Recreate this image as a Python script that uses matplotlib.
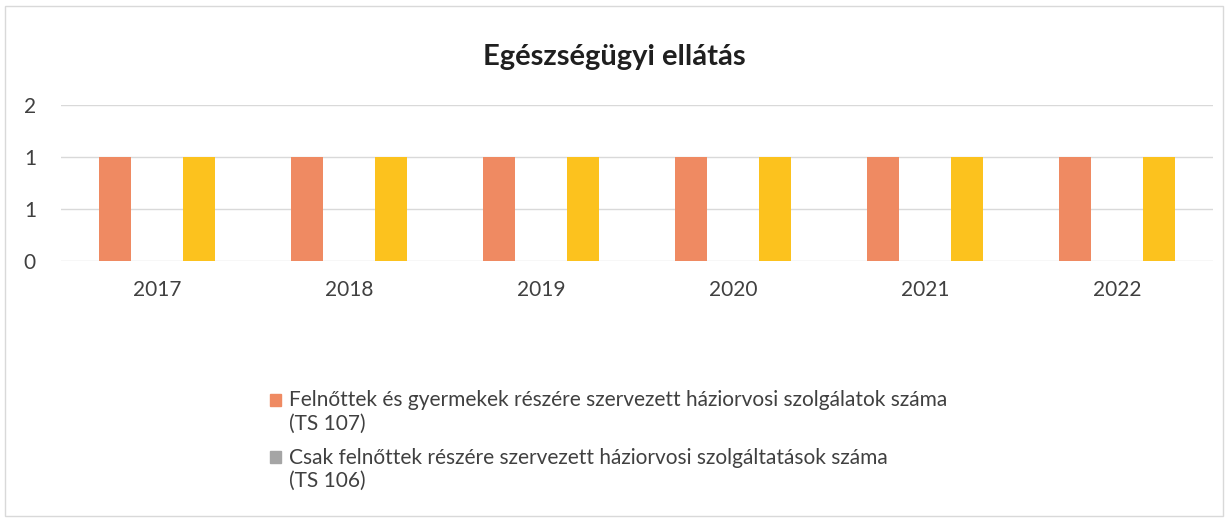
import matplotlib
matplotlib.use("Agg")
import matplotlib.pyplot as plt
import numpy as np
from matplotlib.patches import Patch, Rectangle
from matplotlib.legend_handler import HandlerPatch

plt.rcParams['font.family'] = ['Lato', 'DejaVu Sans']

years = ["2017", "2018", "2019", "2020", "2021", "2022"]
ts107 = [1, 1, 1, 1, 1, 1]
ts106 = [0, 0, 0, 0, 0, 0]
third = [1, 1, 1, 1, 1, 1]
yticks = [0, 0.5, 1, 1.5]
ytick_labels = ["0", "1", "1", "2"]
title = "Egészségügyi ellátás"
legend_labels = [
    "Felnőttek és gyermekek részére szervezett háziorvosi szolgálatok száma\n(TS 107)",
    "Csak felnőttek részére szervezett háziorvosi szolgáltatások száma\n(TS 106)",
]

c_orange = "#EF8A62"
c_gray = "#A5A5A5"
c_yellow = "#FCC21E"

FS = 15
LS = 1.2

fig = plt.figure(figsize=(12.28, 5.21), dpi=100)
ax = fig.add_axes([61/1228, 1 - 261/521, 1152/1228, 156/521])

x = np.arange(len(years))
w = 0.167
off = 0.219
ax.bar(x - off, ts107, width=w, color=c_orange, zorder=3)
ax.bar(x, ts106, width=w, color=c_gray, zorder=3)
ax.bar(x + off, third, width=w, color=c_yellow, zorder=3)

ax.set_xlim(-0.5, len(years) - 0.5)
ax.set_ylim(0, 1.5)
ax.set_yticks(yticks)
ax.set_yticklabels(ytick_labels)
ax.set_xticks(x)
ax.set_xticklabels(years)
ax.grid(axis='y', color='#D9D9D9', linewidth=1, zorder=0)
for s in ax.spines.values():
    s.set_visible(False)
ax.tick_params(axis='both', length=0, labelsize=FS, colors='#404040')
ax.tick_params(axis='x', pad=14)
ax.tick_params(axis='y', pad=18)

fig.text(0.5, 1 - 57/521, title, ha='center', va='center', fontsize=21,
         fontweight='bold', color='#1f1f1f')


def top_square(legend, orig_handle, xdescent, ydescent, width, height, fontsize):
    return Rectangle((-xdescent, -ydescent + fontsize * 0.62), width, height)


handles = [Patch(color=c_orange), Patch(color=c_gray)]
leg = fig.legend(handles, legend_labels, loc='upper left',
                 bbox_to_anchor=(262/1228, 1 - 382/521), frameon=False,
                 fontsize=FS, handlelength=0.5, handleheight=0.5,
                 handletextpad=0.4, labelspacing=0.68, borderaxespad=0,
                 handler_map={Patch: HandlerPatch(patch_func=top_square)})
for t in leg.get_texts():
    t.set_color('#404040')
    t.set_linespacing(LS)

fig.patches.append(Rectangle((5/1228, 5/521), 1218/1228, 510/521, fill=False,
                             edgecolor='#D9D9D9', linewidth=1,
                             transform=fig.transFigure))

fig.savefig("out.png", dpi=100, facecolor='white')
